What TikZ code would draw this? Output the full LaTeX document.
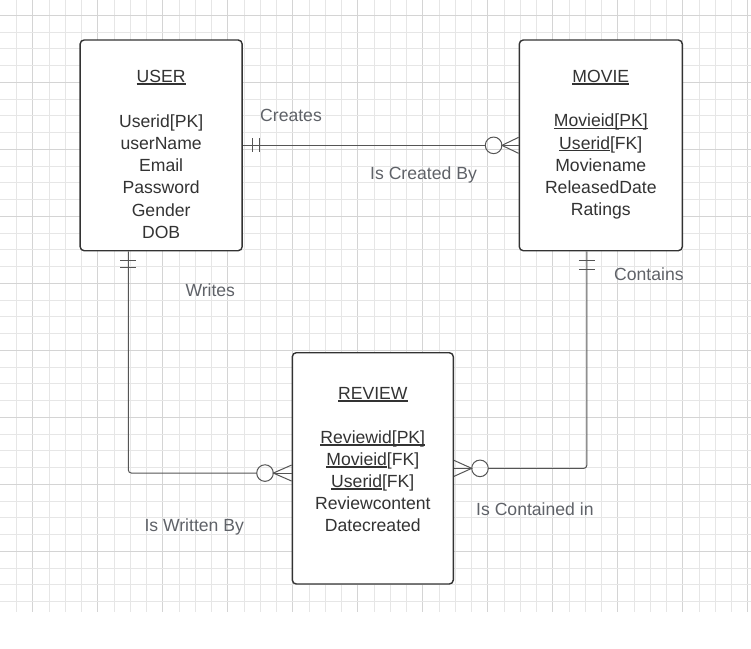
\documentclass[tikz,border=0pt]{standalone}
\usepackage{fontspec}
\setmainfont{Liberation Sans}
\usetikzlibrary{calc}
\definecolor{ink}{HTML}{333333}
\definecolor{lbl}{HTML}{5F6268}
\definecolor{wire}{HTML}{555555}
\definecolor{gmin}{HTML}{E6E6E6}
\definecolor{gmaj}{HTML}{D4D4D4}
\newcommand\undl[1]{\setbox0\hbox{#1}\rlap{\vrule width\wd0 height -1.0pt depth 2.2pt}\box0}
\begin{document}
\begin{tikzpicture}[x=1pt,y=-1pt,
  entity/.style={draw=ink, line width=1.4pt, rounded corners=4pt, fill=white, inner sep=0pt},
  txt/.style={anchor=base, text=ink, font=\fontsize{17.6}{21}\selectfont, inner sep=0pt},
  rel/.style={anchor=base west, text=lbl, font=\fontsize{17.6}{21}\selectfont, inner sep=0pt},
  conn/.style={draw=wire, line width=1pt},
  gridminor/.style={draw=gmin, line width=0.8pt},
  gridmajor/.style={draw=gmaj, line width=1pt}]
\useasboundingbox[fill=white] (0,0) rectangle (751,648);
% grid
\foreach \k in {0,...,45}{
  \pgfmathtruncatemacro{\m}{mod(\k,4)}
  \ifnum\m=1 \draw[gridmajor] ({16.45+\k*16.25},0) -- ({16.45+\k*16.25},612);
  \else \draw[gridminor] ({16.45+\k*16.25},0) -- ({16.45+\k*16.25},612); \fi
}
\foreach \k in {0,...,35}{
  \pgfmathtruncatemacro{\m}{mod(\k,4)}
  \ifnum\m=0 \draw[gridmajor] (0,{15.3+\k*16.75}) -- (751,{15.3+\k*16.75});
  \else \draw[gridminor] (0,{15.3+\k*16.75}) -- (751,{15.3+\k*16.75}); \fi
}
% entities
\node[entity, minimum width=162pt, minimum height=210.7pt] (user) at (161.15,145.35) {};
\node[entity, minimum width=163pt, minimum height=210.7pt] (movie) at (600.8,145.35) {};
\node[entity, minimum width=161pt, minimum height=231.3pt] (review) at (372.8,468.35) {};
% USER text
\node[txt] (u0) at (161.15,82.3) {\undl{USER}};
\node[txt] (u1) at (161.15,127.3) {Userid[PK]};
\node[txt] (u2) at (161.15,149.5) {userName};
\node[txt] (u3) at (161.15,171.7) {Email};
\node[txt] (u4) at (161.15,193.9) {Password};
\node[txt] (u5) at (161.15,216.1) {Gender};
\node[txt] (u6) at (161.15,238.3) {DOB};
% MOVIE text
\node[txt] (m0) at (600.8,82.3) {\undl{MOVIE}};
\node[txt] (m1) at (600.8,126.9) {\undl{Movieid[PK]}};
\node[txt] (m2) at (600.8,149.1) {\undl{Userid}[FK]};
\node[txt] (m3) at (600.8,171.3) {Moviename};
\node[txt] (m4) at (600.8,193.5) {ReleasedDate};
\node[txt] (m5) at (600.8,215.7) {Ratings};
% REVIEW text
\node[txt] (r0) at (372.8,399.3) {\undl{REVIEW}};
\node[txt] (r1) at (372.8,443.3) {\undl{Reviewid[PK]}};
\node[txt] (r2) at (372.8,465.3) {\undl{Movieid}[FK]};
\node[txt] (r3) at (372.8,487.3) {\undl{Userid}[FK]};
\node[txt] (r4) at (372.8,509.3) {Reviewcontent};
\node[txt] (r5) at (372.8,531.3) {Datecreated};
% relationship labels
\node[rel] (l1) at (260,121.7) {Creates};
\node[rel] (l2) at (370,179.5) {Is Created By};
\node[rel] (l3) at (185.3,296) {Writes};
\node[rel] (l4) at (614,280) {Contains};
\node[rel] (l5) at (144.3,531) {Is Written By};
\node[rel] (l6) at (476,515) {Is Contained in};
% USER -- MOVIE
\draw[conn] (user.east) -- ($(movie.west)+(-33.3,0)$);
\draw[conn] ($(movie.west)+(-25,0)$) circle[radius=8.3];
\draw[conn] ($(movie.west)+(0,-8)$) -- ($(movie.west)+(-16.7,0)$) -- ($(movie.west)+(0,8)$);
\draw[conn] ($(movie.west)+(-16.7,0)$) -- (movie.west);
\draw[conn] ($(user.east)+(9.4,-7)$) -- ++(0,14);
\draw[conn] ($(user.east)+(16.7,-7)$) -- ++(0,14);
% USER -- REVIEW
\draw[conn, rounded corners=3pt] ($(user.south west)+(48.9,0)$) |- ($(review.west)+(-34.9,4.7)$);
\draw[conn] ($(review.west)+(-26.6,4.7)$) circle[radius=8.3];
\draw[conn] ($(review.west)+(0,-3.3)$) -- ($(review.west)+(-18.3,4.7)$) -- ($(review.west)+(0,12.7)$);
\draw[conn] ($(review.west)+(-18.3,4.7)$) -- ($(review.west)+(0,4.7)$);
\draw[conn] ($(user.south west)+(40.9,8.6)$) -- ++(16,0);
\draw[conn] ($(user.south west)+(40.9,16)$) -- ++(16,0);
% MOVIE -- REVIEW
\draw[conn, rounded corners=3pt] ($(movie.south west)+(68.2,0)$) |- ($(review.east)+(34.3,0)$);
\draw[conn] ($(review.east)+(26,0)$) circle[radius=8.3];
\draw[conn] ($(review.east)+(0,-8)$) -- ($(review.east)+(17.7,0)$) -- ($(review.east)+(0,8)$);
\draw[conn] ($(review.east)+(17.7,0)$) -- (review.east);
\draw[conn] ($(movie.south west)+(60.2,9.3)$) -- ++(16,0);
\draw[conn] ($(movie.south west)+(60.2,17.6)$) -- ++(16,0);
\end{tikzpicture}
\end{document}
